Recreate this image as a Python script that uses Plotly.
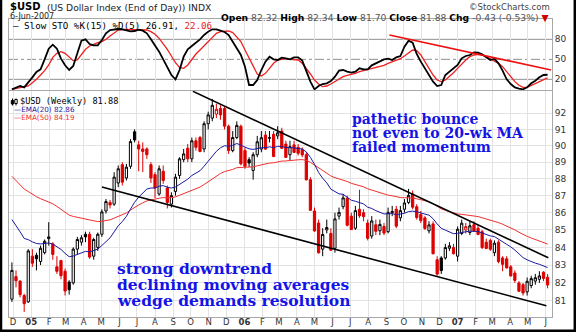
import math
import pandas as pd
import plotly.graph_objects as go

W, H = 576, 332


def px(x):
    return x / W


def py(y):
    return 1 - y / H


# ---------------- weekly US Dollar Index bars (week starting Monday) ----------------
week0 = pd.Timestamp("2004-11-29")

opens = [81.10, 82.35, 82.10, 81.30, 80.95, 83.50, 83.55, 83.20, 83.70, 84.50,
         84.20, 82.90, 83.25, 82.65, 82.05, 82.00, 83.90, 84.30, 84.75, 84.75,
         83.50, 84.00, 84.75, 86.10, 86.60, 86.50, 87.75, 88.85, 88.05, 88.75,
         90.85, 90.05, 89.80, 89.80, 88.85, 88.25, 87.10, 88.45, 87.45, 86.50,
         87.25, 88.20, 89.15, 89.85, 89.20, 90.30, 90.50, 89.80, 91.35, 91.70,
         91.95, 92.30, 92.30, 91.20, 89.70, 90.50, 91.20, 89.70, 89.15, 88.50,
         89.45, 89.80, 90.65, 90.45, 90.70, 90.60, 90.90, 90.10, 89.45, 90.05,
         89.90, 89.75, 89.45, 87.95, 86.10, 85.40, 83.90, 85.00, 84.80, 83.95,
         85.80, 86.35, 86.85, 85.80, 85.10, 86.20, 86.00, 85.40, 84.65, 85.30,
         84.95, 85.20, 84.90, 86.00, 86.20, 85.70, 86.20, 86.60, 87.10, 86.35,
         85.90, 85.70, 84.95, 85.35, 83.30, 83.40, 83.40, 83.95, 84.00, 83.50,
         84.80, 85.00, 84.85, 85.30, 85.10, 84.90, 84.30, 84.40, 83.70, 84.30,
         83.40, 83.35, 82.90, 82.55, 82.00, 81.90, 81.50, 81.85, 82.10, 82.20,
         82.60, 82.32]
highs = [83.15, 82.70, 82.15, 81.40, 83.90, 83.90, 83.70, 84.10, 84.45, 85.45,
         84.30, 83.50, 83.30, 82.80, 82.15, 84.00, 84.60, 84.70, 84.90, 84.90,
         84.55, 84.85, 86.20, 86.80, 86.75, 88.40, 88.80, 89.00, 88.90, 90.40,
         91.00, 90.30, 90.20, 89.90, 89.00, 88.40, 88.80, 88.80, 87.60, 87.20,
         88.30, 89.30, 89.80, 90.10, 90.50, 90.50, 90.60, 91.50, 92.10, 92.90,
         92.60, 92.50, 92.40, 91.30, 90.90, 91.50, 91.30, 89.90, 89.30, 89.60,
         90.60, 90.90, 90.90, 90.90, 90.90, 91.20, 91.10, 90.30, 90.30, 90.30,
         90.10, 89.90, 89.60, 88.10, 86.30, 85.60, 85.10, 85.60, 85.10, 86.00,
         86.30, 87.10, 87.00, 86.00, 86.40, 87.35, 86.20, 85.60, 85.80, 85.60,
         85.60, 85.40, 86.30, 86.40, 86.40, 86.40, 86.80, 87.40, 87.30, 86.50,
         86.10, 85.80, 85.50, 85.50, 83.50, 83.50, 84.20, 84.30, 84.20, 85.20,
         85.60, 85.40, 85.50, 85.50, 85.30, 85.00, 84.50, 84.50, 84.40, 84.40,
         83.50, 83.50, 83.00, 82.70, 82.10, 82.00, 82.30, 82.40, 82.50, 82.65,
         82.65, 82.50]
lows = [80.95, 81.75, 81.20, 80.40, 80.90, 82.90, 82.70, 83.00, 83.60, 84.10,
        83.30, 82.50, 82.20, 81.30, 81.35, 81.90, 83.60, 84.10, 84.30, 83.35,
        83.30, 83.80, 84.60, 85.95, 86.25, 86.40, 87.50, 87.60, 87.90, 88.60,
        90.20, 88.45, 88.40, 89.20, 87.75, 86.85, 87.00, 87.70, 86.25, 86.30,
        87.00, 88.00, 89.00, 89.00, 89.00, 89.70, 89.60, 89.60, 91.00, 91.50,
        91.70, 91.60, 91.00, 89.50, 89.60, 90.40, 88.80, 88.60, 88.70, 87.95,
        89.30, 89.60, 89.75, 90.20, 89.30, 90.40, 89.80, 89.25, 89.10, 89.55,
        89.40, 89.30, 87.90, 86.10, 84.90, 83.65, 83.50, 84.80, 83.80, 83.70,
        85.60, 86.20, 85.20, 85.00, 85.00, 85.70, 85.50, 84.40, 84.50, 84.70,
        84.70, 84.70, 84.80, 85.80, 85.10, 85.50, 86.00, 86.50, 86.20, 85.60,
        85.40, 85.00, 84.80, 83.60, 82.40, 82.50, 83.30, 83.80, 83.60, 83.20,
        84.70, 84.80, 84.70, 84.90, 84.70, 83.90, 83.90, 83.80, 83.50, 83.10,
        82.65, 82.80, 82.35, 82.00, 81.50, 81.30, 81.30, 81.70, 81.90, 82.00,
        82.10, 81.70]
closes = [82.70, 82.12, 81.35, 80.85, 83.80, 83.10, 83.35, 83.95, 84.35, 84.60,
          83.60, 82.65, 82.40, 81.55, 81.62, 83.90, 84.45, 84.55, 84.60, 83.45,
          84.45, 84.75, 86.05, 86.65, 86.45, 88.10, 88.60, 87.80, 88.70, 90.25,
          90.35, 89.80, 89.65, 89.45, 88.05, 87.45, 88.60, 87.90, 86.60, 87.00,
          88.10, 89.20, 89.50, 89.20, 90.30, 89.90, 89.65, 91.35, 91.90, 92.50,
          92.25, 91.90, 91.20, 89.70, 90.50, 91.25, 88.90, 88.75, 88.95, 89.45,
          90.24, 90.49, 89.79, 90.49, 89.34, 90.79, 89.84, 89.29, 89.94, 89.59,
          89.54, 89.44, 87.94, 86.14, 84.94, 83.69, 84.74, 85.14, 83.84, 85.64,
          86.02, 86.87, 85.27, 85.02, 86.12, 85.82, 85.77, 84.52, 85.52, 84.92,
          85.32, 84.82, 86.02, 86.07, 85.22, 86.12, 86.57, 87.02, 86.32, 85.72,
          85.54, 85.09, 85.29, 83.64, 82.49, 82.69, 83.99, 84.09, 83.64, 85.04,
          85.39, 85.19, 85.24, 84.94, 84.74, 83.99, 83.94, 83.89, 84.24, 83.19,
          83.04, 82.84, 82.39, 82.14, 81.54, 81.44, 82.09, 82.24, 82.29, 82.39,
          82.25, 81.88]

# Slow stochastic %K(15) and %D(5), one value per weekly bar
sto_k = [5, 8, 10, 8, 15, 23, 31, 35, 50, 66, 72, 66, 51, 41, 34, 40, 59, 78, 80, 73,
         71, 71, 79, 89, 94, 95, 95.5, 95, 93, 92, 92.5, 94.5, 93, 89, 80, 71.5, 61.5,
         50, 39, 26.5, 20, 34, 54, 65, 70, 75, 80, 86.5, 91.5, 95, 95, 93, 91, 86.5,
         76.5, 66.5, 56.5, 39, 11.5, 11.5, 19, 34, 46.5, 54, 50, 49, 52.5, 51.5, 50,
         53, 53, 48, 31.5, 16.5, 5, 10, 13, 14, 17.5, 24, 33, 34, 31.5, 30, 31.5,
         36.5, 35, 35, 41, 44, 46.5, 50, 51, 49, 53, 55, 69, 78, 75, 58, 46.5, 36.5,
         26.5, 16.5, 10, 11.5, 26.5, 31.5, 36.5, 41.5, 51.5, 55, 56.5, 60.5, 60,
         57.5, 53, 49, 51, 44, 33, 20, 13, 8, 6, 5, 8, 14, 18, 23, 26.5, 26.91]
sto_d = [5, 6, 7, 8, 10, 15, 20, 26.5, 33, 41.5, 53, 59, 61.5, 59, 53, 48, 49, 58,
         65, 70, 73, 75, 76.5, 80, 85, 90, 94, 95, 95, 95, 95, 95, 94.5, 94, 91.5,
         87.5, 81.5, 74, 65, 55, 45, 38, 36.5, 41.5, 50, 58, 64, 70, 76.5, 83, 89,
         91.5, 92.5, 92.5, 90, 84, 76.5, 64, 51.5, 39, 28, 25, 29, 36.5, 44, 49,
         50.5, 51, 50, 50, 49, 44, 36.5, 28, 19, 13, 9, 10, 13, 17, 21, 24, 26, 27,
         29, 31.5, 33, 34, 35.5, 37.5, 39, 41, 44, 46, 48, 51, 55, 60, 64, 63, 56.5,
         46.5, 36.5, 26.5, 19, 16.5, 19, 24, 30, 36.5, 43, 49, 54, 56.5, 57.5, 56.5,
         54, 51, 48, 44, 39, 31.5, 24, 16.5, 11, 8, 8, 11, 14, 17, 20, 22.06]

# EMA levels at the first bar on the chart
ema20_first = 85.60
ema50_first = 88.15

# hand-drawn trend lines: (date, level)
wedge_upper = [("2005-10-04 21:00", 93.38), ("2007-06-05 07:00", 83.41)]
wedge_lower = [("2005-05-02", 87.51), ("2007-06-02", 80.74)]
sto_trend = [("2006-09-06 07:00", 86.5), ("2007-06-10", 34.0)]

# daily quote shown in the header
quote_date = "6-Jun-2007"
q_open, q_high, q_low, q_close = 82.32, 82.34, 81.70, 81.88
q_chg, q_chg_pct = -0.43, -0.53

price_ticks = list(range(81, 93))
sto_ticks = [20, 50, 80]

dates = pd.date_range(week0, periods=len(closes), freq="7D")


def ema(values, n, first):
    k = 2.0 / (n + 1)
    out = [first]
    for v in values[1:]:
        out.append(out[-1] + k * (v - out[-1]))
    return out


ema20 = ema(closes, 20, ema20_first)
ema50 = ema(closes, 50, ema50_first)

fig = go.Figure()

# candles: black when the close is up on the week, red when down;
# hollow when close > open, filled when close < open
up_idx = [i for i in range(len(closes)) if i == 0 or closes[i] >= closes[i - 1]]
dn_idx = [i for i in range(len(closes)) if i > 0 and closes[i] < closes[i - 1]]


def candles(idx, color):
    return go.Candlestick(
        x=[dates[i] for i in idx],
        open=[opens[i] for i in idx], high=[highs[i] for i in idx],
        low=[lows[i] for i in idx], close=[closes[i] for i in idx],
        increasing=dict(line=dict(color=color, width=1), fillcolor="white"),
        decreasing=dict(line=dict(color=color, width=1), fillcolor=color),
        whiskerwidth=0, showlegend=False, hoverinfo="skip",
        xaxis="x", yaxis="y")


fig.add_trace(go.Scatter(x=dates, y=ema50, mode="lines",
                         line=dict(color="#f03030", width=1), hoverinfo="skip",
                         showlegend=False, xaxis="x", yaxis="y"))
fig.add_trace(go.Scatter(x=dates, y=ema20, mode="lines",
                         line=dict(color="#1a1aa0", width=1), hoverinfo="skip",
                         showlegend=False, xaxis="x", yaxis="y"))
fig.add_trace(candles(up_idx, "black"))
fig.add_trace(candles(dn_idx, "#dd0000"))

for line in (wedge_upper, wedge_lower):
    fig.add_trace(go.Scatter(x=[p[0] for p in line], y=[p[1] for p in line],
                             mode="lines", line=dict(color="black", width=1.6),
                             hoverinfo="skip", showlegend=False,
                             xaxis="x", yaxis="y"))

# stochastic panel
fig.add_trace(go.Scatter(x=dates, y=sto_d, mode="lines",
                         line=dict(color="#ee2020", width=1.3), hoverinfo="skip",
                         showlegend=False, xaxis="x2", yaxis="y2"))
fig.add_trace(go.Scatter(x=dates, y=sto_k, mode="lines",
                         line=dict(color="black", width=1.8), hoverinfo="skip",
                         showlegend=False, xaxis="x2", yaxis="y2"))
fig.add_trace(go.Scatter(x=[p[0] for p in sto_trend], y=[p[1] for p in sto_trend],
                         mode="lines", line=dict(color="#ee1010", width=1.6),
                         hoverinfo="skip", showlegend=False,
                         xaxis="x2", yaxis="y2"))

# month ticks
months = pd.date_range("2004-12-01", "2007-06-01", freq="MS")
letters = "JFMAMJJASOND"
tick_text = ["<b>%02d</b>" % (m.year % 100) if m.month == 1 else letters[m.month - 1]
             for m in months]

x_range = ["2004-11-24", "2007-06-11 14:00"]
dom_x = [px(9), px(552)]
grid = "#e3e3e3"
frame = "#a8a8a8"
tick_font = dict(family="DejaVu Sans", size=9, color="#333333")

fig.update_layout(
    width=W, height=H, margin=dict(l=0, r=0, t=0, b=0),
    paper_bgcolor="white", plot_bgcolor="white", boxgap=0.22,
    xaxis=dict(domain=dom_x, range=x_range, type="date", anchor="y",
               tickvals=list(months), ticktext=tick_text,
               tickfont=dict(family="DejaVu Sans", size=8.5, color="#333333"),
               ticklabelstandoff=-3,
               showgrid=True, gridcolor=grid, gridwidth=1, ticks="",
               showline=True, linecolor=frame, mirror=True,
               rangeslider=dict(visible=False), zeroline=False),
    yaxis=dict(domain=[py(317), py(91)], type="log",
               range=[math.log10(80.125), math.log10(93.402)],
               side="right", anchor="x", tickvals=price_ticks,
               ticktext=[str(t) for t in price_ticks], tickfont=tick_font,
               showgrid=True, gridcolor=grid, ticks="",
               showline=True, linecolor=frame, mirror=True, zeroline=False),
    xaxis2=dict(domain=dom_x, range=x_range, type="date", anchor="y2",
                matches="x", tickvals=list(months), showticklabels=False,
                showgrid=True, gridcolor=grid, ticks="",
                showline=True, linecolor=frame, mirror=True, zeroline=False),
    yaxis2=dict(domain=[py(90), py(19)], range=[4, 110.5], side="right",
                anchor="x2", tickvals=sto_ticks, tickfont=tick_font,
                showgrid=False, ticks="", showline=True, linecolor=frame,
                mirror=True, zeroline=False),
)

shapes = []
for t in sto_ticks:
    shapes.append(dict(type="line", xref="x2 domain", yref="y2", x0=0, x1=1,
                       y0=t, y1=t, layer="below",
                       line=dict(color="#909090", width=1,
                                 dash="dashdot" if t == 50 else "solid")))
# outer frame
shapes += [
    dict(type="line", xref="paper", yref="paper", x0=px(1), x1=px(1), y0=0, y1=1,
         line=dict(color="black", width=2.5)),
    dict(type="line", xref="paper", yref="paper", x0=px(574.8), x1=px(574.8),
         y0=0, y1=1, line=dict(color="black", width=2.5)),
    dict(type="line", xref="paper", yref="paper", x0=0, x1=1, y0=py(330.8),
         y1=py(330.8), line=dict(color="black", width=2.5)),
]
# small candle glyph in front of the price legend
shapes += [
    dict(type="line", xref="paper", yref="paper", x0=px(12.5), x1=px(12.5),
         y0=py(98.5), y1=py(105.5), line=dict(color="black", width=1)),
    dict(type="rect", xref="paper", yref="paper", x0=px(11.3), x1=px(13.7),
         y0=py(100.5), y1=py(104), line=dict(color="black", width=1),
         fillcolor="black"),
    dict(type="line", xref="paper", yref="paper", x0=px(16), x1=px(16),
         y0=py(98.5), y1=py(105.5), line=dict(color="black", width=1)),
    dict(type="rect", xref="paper", yref="paper", x0=px(14.8), x1=px(17.2),
         y0=py(99.5), y1=py(103.5), line=dict(color="black", width=1),
         fillcolor="white"),
]
fig.update_layout(shapes=shapes)

ann = []


def text(x, y, s, size, anchor="left", family="DejaVu Sans", color="black"):
    ann.append(dict(x=px(x), y=py(y), xref="paper", yref="paper", text=s,
                    showarrow=False, xanchor=anchor, yanchor="middle",
                    font=dict(family=family, size=size, color=color)))


text(8, 6.5, "<b>$USD</b>", 10)
text(45, 7.5, "(US Dollar Index (End of Day)) INDX", 9.2, color="#222")
text(8, 16.5, quote_date, 8, color="#222")
text(467, 6.5, "©StockCharts.com", 8.5, color="#444")
chg_arrow = "▼" if q_chg < 0 else "▲"
text(551, 17.5,
     f"<b>Open</b> <span style='color:#555'>{q_open:.2f}</span> "
     f"<b>High</b> <span style='color:#555'>{q_high:.2f}</span> "
     f"<b>Low</b> <span style='color:#555'>{q_low:.2f}</span> "
     f"<b>Close</b> <span style='color:#555'>{q_close:.2f}</span> "
     f"<b>Chg</b> <span style='color:#555'>{q_chg:.2f} ({q_chg_pct:.2f}%)</span> "
     f"<span style='color:#cc0000'>{chg_arrow}</span>", 9.2, anchor="right")

text(11, 26,
     f"— Slow STO %K(15) %D(5) {sto_k[-1]:.2f}, "
     f"<span style='color:#ee2020'>{sto_d[-1]:.2f}</span>",
     9.2, family="DejaVu Sans Mono")
text(18, 101, f"$USD (Weekly) {closes[-1]:.2f}", 8.6, family="DejaVu Sans Mono")
text(12, 109.5, f"<span style='color:#1a1aa0'>—EMA(20) {ema20[-1]:.2f}</span>", 7.2)
text(12, 117.5, f"<span style='color:#f03030'>—EMA(50) {ema50[-1]:.2f}</span>", 7.2)

blue = "#1414e6"
for y, s in [(118.5, "pathetic bounce"), (132.7, "not even to 20-wk MA"),
             (146.7, "failed momentum")]:
    text(350, y, f"<b>{s}</b>", 14, family="DejaVu Serif", color=blue)
for y, s in [(268.3, "strong downtrend"), (284.8, "declining moving averages"),
             (300.8, "wedge demands resolution")]:
    text(115, y, f"<b>{s}</b>", 15.5, family="DejaVu Serif", color=blue)

fig.update_layout(annotations=ann)

fig.write_html("out.html")
